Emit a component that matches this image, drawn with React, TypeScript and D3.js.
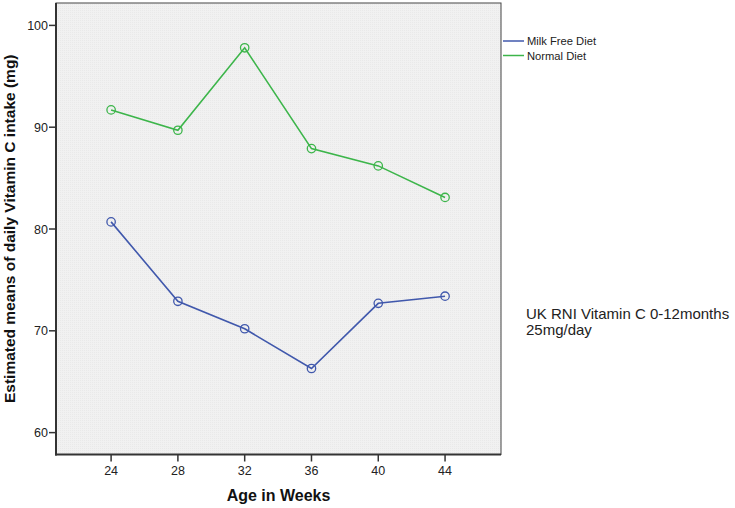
import React from "react";
import * as d3 from "d3";

const weeks = [24, 28, 32, 36, 40, 44];
const milkFree = [80.7, 72.9, 70.2, 66.3, 72.7, 73.4];
const normalDiet = [91.7, 89.7, 97.8, 87.9, 86.2, 83.1];
const yTicks = [60, 70, 80, 90, 100];
const seriesNames = ["Milk Free Diet", "Normal Diet"];
const seriesColors = ["#4058ac", "#3cb54a"];

const W = 735;
const H = 508;
const L = 56, R = 501, T = 3, B = 454.5;

export default function App() {
  const x = d3.scaleLinear().domain([20.7, 47.35]).range([L, R]);
  const y = d3.scaleLinear().domain([57.85, 102.2]).range([B, T]);
  const line = d3
    .line<[number, number]>()
    .x((d) => x(d[0]))
    .y((d) => y(d[1]));
  const series = [milkFree, normalDiet];
  const font = "Arial, 'Liberation Sans', sans-serif";
  return (
    <svg
      width={W}
      height={H}
      style={{ position: "absolute", left: 0, top: 0, background: "#fff" }}
      fontFamily={font}
    >
      <defs>
        <pattern id="dots" width="2" height="2" patternUnits="userSpaceOnUse">
          <rect width="2" height="2" fill="#f1f1f1" />
          <rect width="1" height="1" fill="#e9e9e9" />
        </pattern>
      </defs>
      <rect x={L} y={T} width={R - L} height={B - T} fill="url(#dots)" stroke="#444" strokeWidth={1} />
      <line x1={L} y1={T} x2={L} y2={B + 1} stroke="#333" strokeWidth={2} />
      <line x1={L - 1} y1={B} x2={R} y2={B} stroke="#333" strokeWidth={2} />
      {yTicks.map((t) => (
        <g key={t}>
          <line x1={L - 7} x2={L} y1={y(t)} y2={y(t)} stroke="#333" strokeWidth={1.5} />
          <text x={L - 8} y={y(t) + 4.5} textAnchor="end" fontSize={12.5} fill="#222">
            {t}
          </text>
        </g>
      ))}
      {weeks.map((t) => (
        <g key={t}>
          <line x1={x(t)} x2={x(t)} y1={B} y2={B + 7} stroke="#333" strokeWidth={1.5} />
          <text x={x(t)} y={B + 20} textAnchor="middle" fontSize={12.5} fill="#222">
            {t}
          </text>
        </g>
      ))}
      {series.map((s, i) => {
        const pts = weeks.map((w, j) => [w, s[j]] as [number, number]);
        return (
          <g key={i}>
            <path d={line(pts) || ""} fill="none" stroke={seriesColors[i]} strokeWidth={1.6} />
            {pts.map((p, j) => (
              <circle
                key={j}
                cx={x(p[0])}
                cy={y(p[1])}
                r={4.2}
                fill="none"
                stroke={seriesColors[i]}
                strokeWidth={1.3}
              />
            ))}
          </g>
        );
      })}
      {seriesNames.map((n, i) => (
        <g key={n}>
          <line x1={503} x2={524} y1={41 + i * 14.5} y2={41 + i * 14.5} stroke={seriesColors[i]} strokeWidth={1.5} />
          <text x={527} y={45 + i * 14.5} fontSize={11.2} fill="#222">
            {n}
          </text>
        </g>
      ))}
      <text x={526} y={319} fontSize={15} fill="#222">UK RNI Vitamin C 0-12months</text>
      <text x={526} y={335} fontSize={15} fill="#222">25mg/day</text>
      <text x={(L + R) / 2} y={501} textAnchor="middle" fontSize={16} fontWeight="bold" fill="#111">
        Age in Weeks
      </text>
      <text
        transform={`translate(15, ${(T + B) / 2}) rotate(-90)`}
        textAnchor="middle"
        fontSize={15.5}
        fontWeight="bold"
        fill="#111"
      >
        Estimated means of daily Vitamin C intake (mg)
      </text>
    </svg>
  );
}
